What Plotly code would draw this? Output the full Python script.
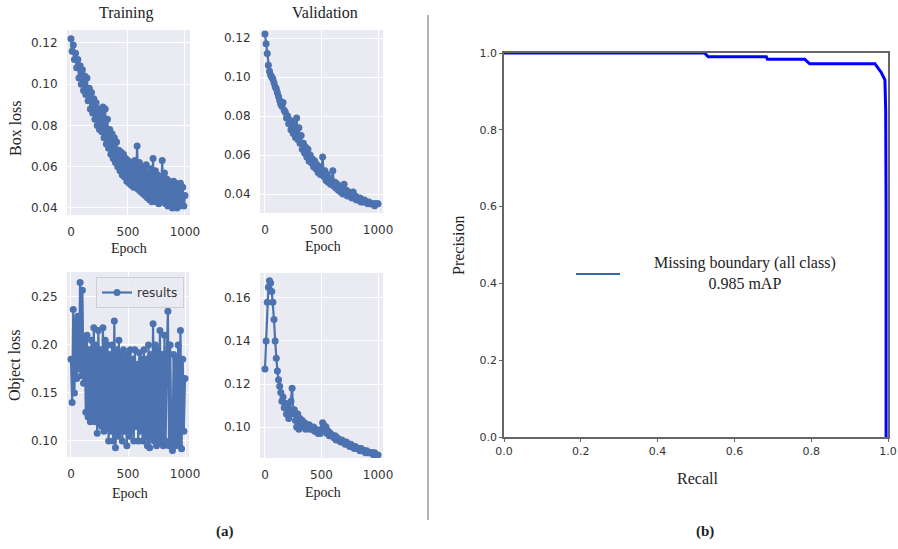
import plotly.graph_objects as go

# ---------------- data ----------------
train_box_loss = [
    0.122, 0.116, 0.119, 0.112, 0.115, 0.108, 0.112, 0.103, 0.109, 0.100,
    0.107, 0.097, 0.104, 0.095, 0.103, 0.092, 0.098, 0.088, 0.096, 0.086,
    0.093, 0.083, 0.091, 0.080, 0.088, 0.078, 0.086, 0.077, 0.089, 0.074,
    0.088, 0.071, 0.083, 0.069, 0.078, 0.066, 0.076, 0.064, 0.074, 0.062,
    0.072, 0.060, 0.068, 0.058, 0.067, 0.056, 0.066, 0.055, 0.064, 0.053,
    0.063, 0.052, 0.062, 0.051, 0.061, 0.050, 0.063, 0.050, 0.070, 0.049,
    0.062, 0.048, 0.060, 0.047, 0.058, 0.046, 0.061, 0.045, 0.057, 0.044,
    0.059, 0.043, 0.064, 0.044, 0.058, 0.043, 0.056, 0.042, 0.055, 0.044,
    0.063, 0.043, 0.057, 0.042, 0.054, 0.041, 0.053, 0.042, 0.052, 0.040,
    0.053, 0.041, 0.052, 0.040, 0.051, 0.041, 0.052, 0.042, 0.050, 0.041,
    0.046,
]
val_box_loss = [
    0.122, 0.117, 0.112, 0.106, 0.103, 0.101, 0.100, 0.099, 0.097, 0.095,
    0.094, 0.092, 0.090, 0.088, 0.086, 0.085, 0.087, 0.083, 0.082, 0.079,
    0.080, 0.076, 0.078, 0.073, 0.077, 0.071, 0.075, 0.069, 0.079, 0.068,
    0.074, 0.066, 0.070, 0.063, 0.066, 0.061, 0.064, 0.059, 0.063, 0.057,
    0.060, 0.056, 0.058, 0.054, 0.057, 0.053, 0.055, 0.051, 0.054, 0.050,
    0.052, 0.059, 0.049, 0.052, 0.047, 0.050, 0.046, 0.048, 0.045, 0.047,
    0.052, 0.044, 0.046, 0.043, 0.045, 0.042, 0.044, 0.041, 0.043, 0.040,
    0.045, 0.040, 0.042, 0.039, 0.041, 0.039, 0.040, 0.038, 0.041, 0.038,
    0.039, 0.037, 0.038, 0.037, 0.038, 0.036, 0.037, 0.036, 0.037, 0.036,
    0.036, 0.035, 0.036, 0.035, 0.035, 0.035, 0.035, 0.034, 0.035, 0.035,
    0.035,
]
train_obj_loss = [
    0.185, 0.140, 0.237, 0.150, 0.225, 0.165, 0.230, 0.175, 0.265, 0.168,
    0.257, 0.160, 0.205, 0.130, 0.210, 0.125, 0.195, 0.120, 0.205, 0.125,
    0.218, 0.120, 0.200, 0.108, 0.215, 0.118, 0.195, 0.115, 0.218, 0.110,
    0.205, 0.115, 0.200, 0.100, 0.190, 0.110, 0.200, 0.100, 0.225, 0.093,
    0.195, 0.105, 0.205, 0.110, 0.190, 0.100, 0.195, 0.110, 0.185, 0.095,
    0.190, 0.105, 0.195, 0.110, 0.185, 0.100, 0.195, 0.115, 0.180, 0.100,
    0.192, 0.110, 0.185, 0.100, 0.195, 0.105, 0.185, 0.095, 0.200, 0.093,
    0.190, 0.105, 0.222, 0.100, 0.200, 0.095, 0.195, 0.100, 0.215, 0.098,
    0.190, 0.095, 0.210, 0.100, 0.190, 0.235, 0.095, 0.200, 0.098, 0.090,
    0.190, 0.095, 0.185, 0.100, 0.200, 0.095, 0.215, 0.092, 0.185, 0.110,
    0.165,
]
val_obj_loss = [
    0.127, 0.140, 0.158, 0.165, 0.168, 0.167, 0.163, 0.158, 0.150, 0.140,
    0.132, 0.126, 0.122, 0.119, 0.116, 0.112, 0.114, 0.109, 0.111, 0.106,
    0.110, 0.104, 0.108, 0.112, 0.118, 0.106, 0.108, 0.103, 0.100, 0.106,
    0.099, 0.104, 0.101, 0.103, 0.100, 0.102, 0.099, 0.101, 0.100, 0.101,
    0.099, 0.100, 0.099, 0.100, 0.098, 0.099, 0.098, 0.097, 0.098, 0.097,
    0.099, 0.102, 0.101, 0.099, 0.100, 0.097, 0.098, 0.096, 0.097, 0.096,
    0.096, 0.095, 0.096, 0.094, 0.095, 0.094, 0.094, 0.093, 0.094, 0.093,
    0.093, 0.092, 0.093, 0.092, 0.092, 0.091, 0.092, 0.091, 0.091, 0.090,
    0.091, 0.090, 0.090, 0.090, 0.089, 0.090, 0.089, 0.089, 0.089, 0.088,
    0.089, 0.088, 0.088, 0.088, 0.088, 0.088, 0.087, 0.088, 0.087, 0.087,
    0.087,
]
epoch_step = 10
epochs = [i * epoch_step for i in range(len(train_box_loss))]

pr_recall = [0.0, 0.523, 0.527, 0.532, 0.683, 0.686, 0.783, 0.790, 0.796,
             0.966, 0.970, 0.976, 0.982, 0.988, 0.992, 0.994, 0.995, 0.995]
pr_precision = [1.0, 1.0, 0.995, 0.990, 0.990, 0.984, 0.984, 0.977, 0.972,
                0.972, 0.965, 0.958, 0.950, 0.940, 0.930, 0.850, 0.600, 0.0]

pr_ticks = [0.0, 0.2, 0.4, 0.6, 0.8, 1.0]
epoch_ticks = [0, 500, 1000]

# ---------------- layout helpers ----------------
W, H = 898, 549
def px(x):
    return x / W
def py(y):
    return 1 - y / H

SEA_BG = "#EAEAF2"
BLUE = "#4C72B0"
SANS = "DejaVu Sans"
SERIF = "Liberation Serif"

fig = go.Figure()

series = [
    (train_box_loss, "x", "y", False),
    (val_box_loss, "x2", "y2", False),
    (train_obj_loss, "x3", "y3", True),
    (val_obj_loss, "x4", "y4", False),
]
for vals, xa, ya, show in series:
    fig.add_trace(go.Scatter(
        x=epochs, y=vals, xaxis=xa, yaxis=ya, mode="lines+markers",
        name="results", showlegend=show,
        line=dict(color=BLUE, width=2.2),
        marker=dict(color=BLUE, size=7),
    ))

fig.add_trace(go.Scatter(
    x=pr_recall, y=pr_precision, xaxis="x5", yaxis="y5", mode="lines",
    line=dict(color="#0000FF", width=3), showlegend=False,
))

def sea_x(domain, anchor, rng):
    return dict(domain=domain, anchor=anchor, range=rng, tickvals=epoch_ticks,
                showgrid=True, gridcolor="white", gridwidth=1.2, zeroline=False,
                showline=False, ticks="outside", ticklen=6, automargin=False,
                tickcolor="rgba(0,0,0,0)",
                tickfont=dict(family=SANS, size=12, color="#333333"))

def sea_y(domain, anchor, rng, tv):
    return dict(domain=domain, anchor=anchor, range=rng, tickvals=tv,
                tickformat=".2f", automargin=False,
                showgrid=True, gridcolor="white", gridwidth=1.2, zeroline=False,
                showline=False, ticks="outside", ticklen=6,
                tickcolor="rgba(0,0,0,0)",
                tickfont=dict(family=SANS, size=12, color="#333333"))

panels = [
    (67, 190, 30, 215),
    (260, 383, 30, 213),
    (67, 189, 272, 457),
    (260, 383, 273, 458),
]

shapes = []
for (x0, x1, y0, y1) in panels:
    shapes.append(dict(type="rect", xref="paper", yref="paper",
                       x0=px(x0), x1=px(x1), y0=py(y1), y1=py(y0),
                       fillcolor=SEA_BG, line=dict(width=0), layer="below"))
# divider
shapes.append(dict(type="line", xref="paper", yref="paper",
                   x0=px(428), x1=px(428), y0=py(15), y1=py(520),
                   line=dict(color="#9a9a9a", width=1.5)))
# legend sample line of PR plot
shapes.append(dict(type="line", xref="paper", yref="paper",
                   x0=px(576), x1=px(620), y0=py(274), y1=py(274),
                   line=dict(color="#3A66AE", width=2)))

pr_axis_common = dict(showgrid=False, zeroline=False, showline=True,
                      linecolor="#666666", linewidth=1.5, mirror=True,
                      ticks="outside", ticklen=3, tickcolor="#666666",
                      tickvals=pr_ticks, tickformat=".1f", automargin=False,
                      layer="below traces",
                      tickfont=dict(family=SANS, size=11, color="#333333"))

layout = dict(
    width=W, height=H, margin=dict(l=0, r=0, t=0, b=0, autoexpand=False),
    paper_bgcolor="white", plot_bgcolor="white",
    xaxis=sea_x([px(67), px(190)], "y", [-35, 1044]),
    yaxis=sea_y([py(215), py(30)], "x", [0.0366, 0.1263],
                [0.04, 0.06, 0.08, 0.10, 0.12]),
    xaxis2=sea_x([px(260), px(383)], "y2", [-44, 1044]),
    yaxis2=sea_y([py(213), py(30)], "x2", [0.0303, 0.1241],
                 [0.04, 0.06, 0.08, 0.10, 0.12]),
    xaxis3=sea_x([px(67), px(189)], "y3", [-35, 1035]),
    yaxis3=sea_y([py(457), py(272)], "x3", [0.0833, 0.276],
                 [0.10, 0.15, 0.20, 0.25]),
    xaxis4=sea_x([px(260), px(383)], "y4", [-44, 1044]),
    yaxis4=sea_y([py(458), py(273)], "x4", [0.0856, 0.1716],
                 [0.10, 0.12, 0.14, 0.16]),
    xaxis5=dict(domain=[px(504), px(888)], anchor="y5", range=[0, 1],
                **pr_axis_common),
    yaxis5=dict(domain=[py(437), py(53)], anchor="x5", range=[0, 1],
                **pr_axis_common),
    shapes=shapes,
    legend=dict(x=px(96), y=py(277), xanchor="left", yanchor="top",
                bgcolor="rgba(234,234,242,0.85)", bordercolor="#cfcfcf",
                borderwidth=1, itemwidth=30,
                font=dict(family=SANS, size=12, color="#333333")),
)
fig.update_layout(**layout)

def ann(text, x, y, size, rot=0, bold=False, family=SERIF, color="#222222"):
    if bold:
        text = "<b>" + text + "</b>"
    fig.add_annotation(text=text, x=px(x), y=py(y), xref="paper", yref="paper",
                       showarrow=False, textangle=rot, xanchor="center",
                       yanchor="middle",
                       font=dict(family=family, size=size, color=color))

ann("Training", 126, 13, 16)
ann("Validation", 325, 13, 16)
ann("Box loss", 15, 128, 16, rot=-90)
ann("Object loss", 15, 365, 16, rot=-90)
ann("Epoch", 129, 248, 14)
ann("Epoch", 323, 246, 14)
ann("Epoch", 130, 493, 14)
ann("Epoch", 323, 492, 14)
ann("Precision", 458, 245, 16, rot=-90)
ann("Recall", 697, 478, 16)
ann("Missing boundary (all class)<br>0.985 mAP", 745, 273, 16)
ann("(a)", 225, 531, 15, bold=True)
ann("(b)", 705, 531, 15, bold=True)

fig.write_html(
    "out.html",
    config={"displayModeBar": False},
    post_script="document.body.style.margin='0';document.body.style.overflow='hidden';",
)
